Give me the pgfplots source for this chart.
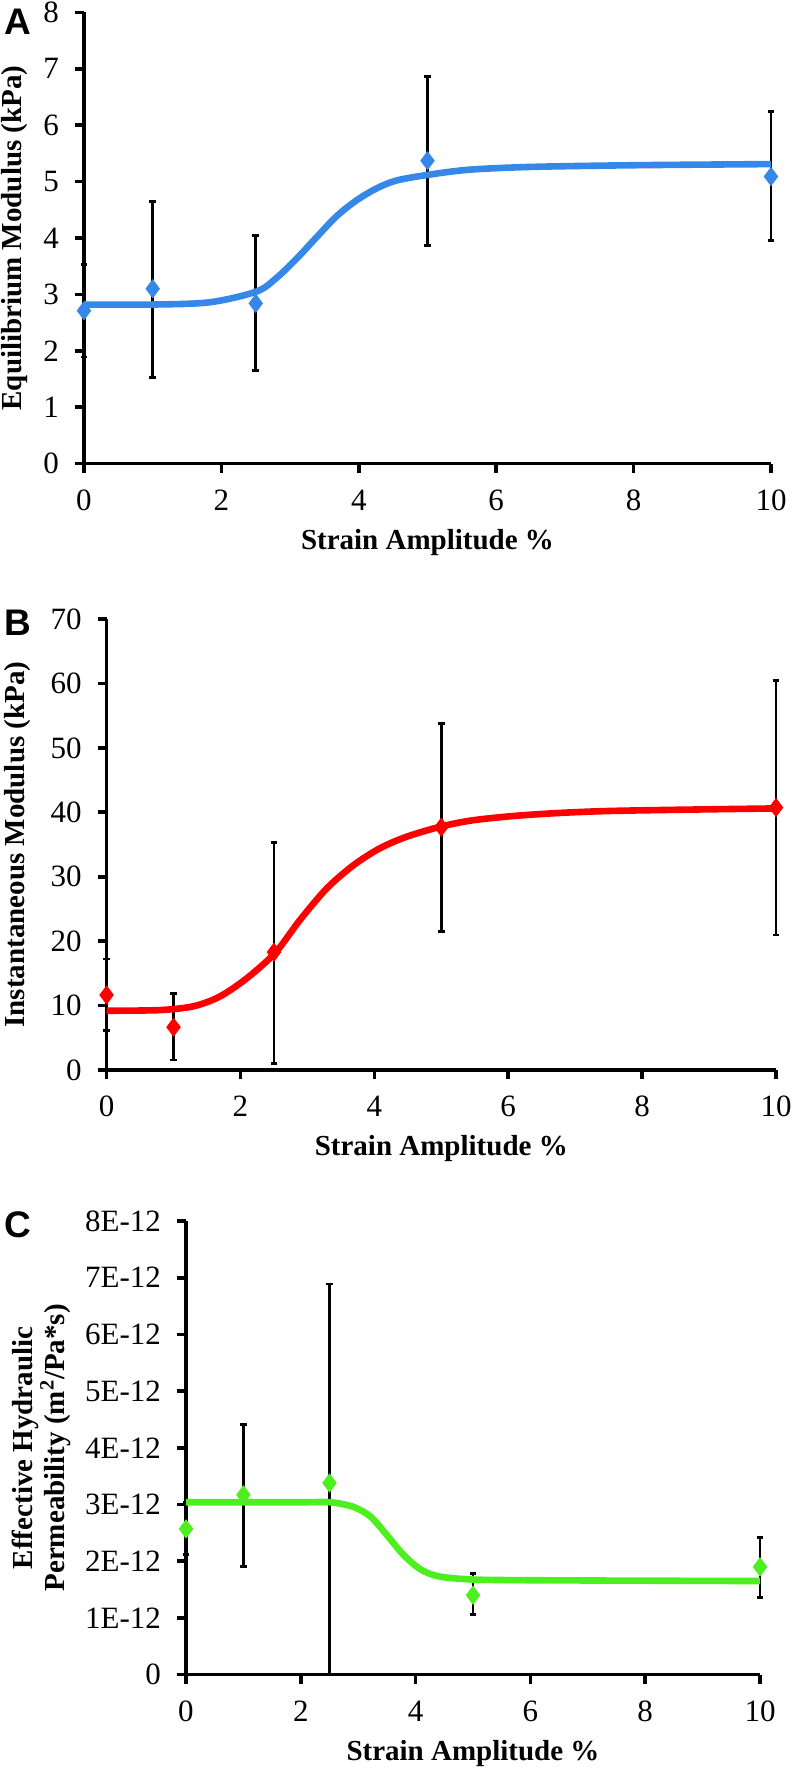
\documentclass[border=0pt]{standalone}
\usepackage{fontspec}
\setmainfont{Liberation Serif}
\newfontfamily\panelfont{Liberation Sans}
\usepackage{pgfplots}
\usepackage{pgfplotstable}
\pgfplotsset{compat=1.18}

\definecolor{eqblue}{RGB}{54,136,232}
\definecolor{instred}{RGB}{255,0,0}
\definecolor{permgreen}{RGB}{76,240,30}

% means with upper/lower error
\pgfplotstableread{
x    y     ep    em
0    2.71  0.82  0.82
1    3.10  1.55  1.57
2.5  2.84  1.20  1.19
5    5.37  1.50  1.50
10   5.09  1.15  1.14
}\eqdata
\pgfplotstableread{
x     y
0     2.82
1     2.82
1.83  2.86
2.51  3.05
2.80  3.29
3.10  3.64
3.39  4.02
3.68  4.39
3.97  4.67
4.26  4.88
4.55  5.02
5.01  5.12
5.6   5.21
6.5   5.26
8     5.29
10    5.31
}\eqfit

\pgfplotstableread{
x    y      ep     em
0    11.64  5.60   5.54
1    6.65   5.27   5.10
2.5  18.29  17.08  17.29
5    37.69  16.11  16.19
10   40.74  19.76  19.79
}\instdata
\pgfplotstableread{
x     y
0     9.2
0.8   9.3
1.3   9.9
1.69  11.4
2.09  14.2
2.52  18.2
2.89  23.3
3.29  28.2
3.69  31.8
4.08  34.4
4.48  36.2
5.0   37.8
5.5   38.8
6.3   39.6
7.5   40.2
10    40.6
}\instfit

% permeability in units of 1E-12 m^2/(Pa s)
\pgfplotstableread{
x    y     ep    em
0    2.57  0.46  0.45
1    3.17  1.24  1.26
2.5  3.38  3.51  3.38
5    1.40  0.38  0.34
10   1.90  0.52  0.54
}\permdata
\pgfplotstableread{
x     y
0     3.04
2.0   3.04
2.51  3.04
2.91  2.96
3.21  2.79
3.50  2.46
3.79  2.11
4.08  1.86
4.37  1.74
4.77  1.69
5.30  1.67
7     1.66
10    1.65
}\permfit

\pgfplotsset{
  panel/.style={
    scale only axis, anchor=south west,
    xmin=0, xmax=10, ymin=0,
    xtick={0,2,...,10},
    axis lines=left,
    axis line style={line width=1.8pt,-},
    every tick/.style={black,line width=1.8pt},
    major tick length=4.5pt,
    tick align=outside,
    clip=false,
    tick label style={font=\fontsize{15.5}{17}\selectfont},
    xticklabel style={yshift=-5pt},
    yticklabel style={xshift=-4.5pt},
    label style={font=\fontsize{14.5}{16}\selectfont\bfseries},
    /pgf/number format/assume math mode=true,
    xlabel={Strain Amplitude \%},
    xlabel style={at={(axis description cs:0.5,0)},anchor=center,yshift=-39.5pt},
  },
  errs/.style={only marks, mark=none, forget plot,
    error bars/.cd, y dir=both, y explicit,
    error mark=-,
    error bar style={line width=1.4pt,draw=black},
    error mark options={rotate=90,line width=1.4pt,mark size=1.7pt,draw=black}},
  fit/.style={no marks, smooth, line width=3.3pt, #1},
  pts/.style={only marks, mark=diamond*, mark size=4.5pt, #1, mark options={draw=#1,fill=#1}},
}

\begin{document}
\begin{tikzpicture}
\useasboundingbox (0,0) rectangle (396pt,884pt);

% A
\begin{axis}[panel, at={(42pt,652.2pt)}, width=343.5pt, height=225.6pt,
    ymax=8, ytick={0,...,8},
    ylabel={Equilibrium Modulus (kPa)},
    ylabel style={at={(axis description cs:-0.1004,0.5)},anchor=center}]
\addplot[errs] table[x=x,y=y,y error plus=ep,y error minus=em] {\eqdata};
\addplot[fit=eqblue] table[x=x,y=y] {\eqfit};
\addplot[pts=eqblue] table[x=x,y=y] {\eqdata};
\end{axis}

% B
\begin{axis}[panel, at={(53.3pt,349pt)}, width=334.7pt, height=225.5pt,
    ymax=70, ytick={0,10,...,70},
    ylabel={Instantaneous Modulus (kPa)},
    ylabel style={at={(axis description cs:-0.1328,0.5)},anchor=center}]
\addplot[errs] table[x=x,y=y,y error plus=ep,y error minus=em] {\instdata};
\addplot[fit=instred] table[x=x,y=y] {\instfit};
\addplot[pts=instred] table[x=x,y=y] {\instdata};
\end{axis}

% C
\begin{axis}[panel, at={(93pt,46.7pt)}, width=287pt, height=226.8pt,
    ymax=8, ytick={0,...,8},
    yticklabels={0,1E-12,2E-12,3E-12,4E-12,5E-12,6E-12,7E-12,8E-12},
    ylabel={Effective Hydraulic\\Permeability (m\textsuperscript{2}/Pa*s)},
    ylabel style={at={(axis description cs:-0.2526,0.5)},anchor=center,align=center}]
\addplot[errs] table[x=x,y=y,y error plus=ep,y error minus=em] {\permdata};
\addplot[fit=permgreen] table[x=x,y=y] {\permfit};
\addplot[pts=permgreen] table[x=x,y=y] {\permdata};
\end{axis}

\node[font=\panelfont\bfseries\fontsize{18.5}{20}\selectfont] at (8.85pt,873.3pt) {A};
\node[font=\panelfont\bfseries\fontsize{18.5}{20}\selectfont] at (8.85pt,572.75pt) {B};
\node[font=\panelfont\bfseries\fontsize{18.5}{20}\selectfont] at (8.85pt,271.5pt) {C};
\end{tikzpicture}
\end{document}
